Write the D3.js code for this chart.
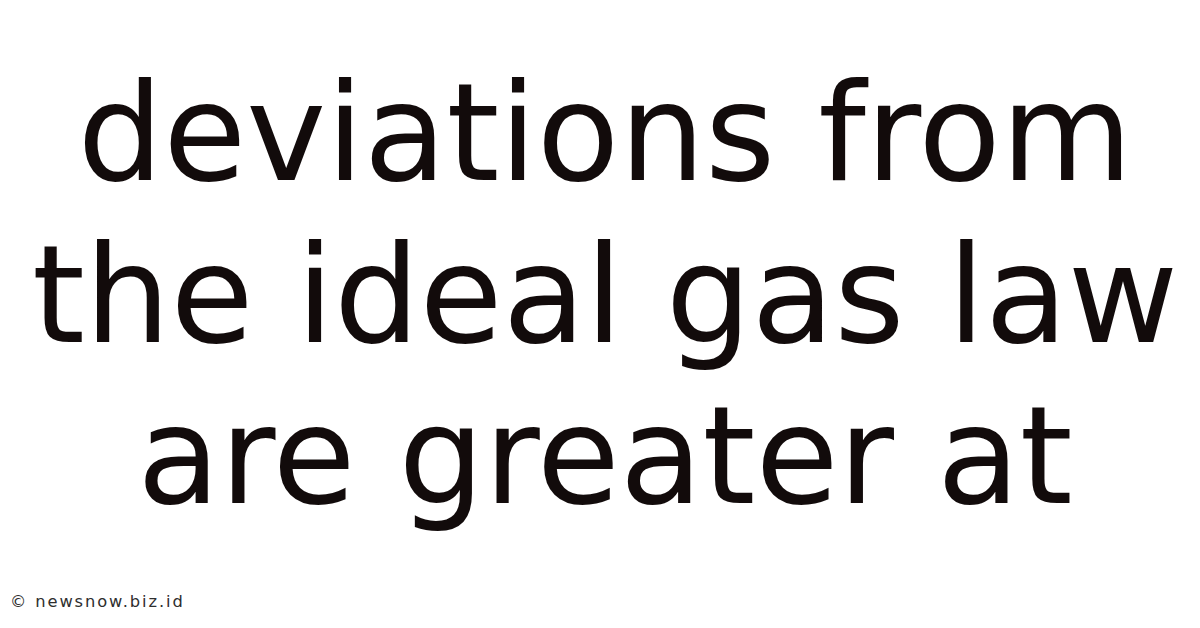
<!DOCTYPE html>
<html><head><meta charset="utf-8">
<script src="https://cdn.jsdelivr.net/npm/d3@7"></script>
<style>html,body{margin:0;padding:0;background:#fff;}svg{display:block;}</style>
</head><body>
<script>
const titleLines = ["deviations from", "the ideal gas law", "are greater at"];
const lineBaselines = [180, 342, 503];
const watermark = "© newsnow.biz.id";

const W = 1200, H = 628;
const svg = d3.select("body").append("svg").attr("width", W).attr("height", H);
svg.append("rect").attr("width", W).attr("height", H).attr("fill", "#ffffff");

const y = d3.scaleOrdinal().domain(titleLines).range(lineBaselines);

svg.selectAll("text.title").data(titleLines).join("text")
  .attr("class", "title")
  .attr("x", 605)
  .attr("y", d => y(d))
  .attr("text-anchor", "middle")
  .attr("font-family", "DejaVu Sans")
  .attr("font-size", 135)
  .attr("fill", "#120b0b")
  .text(d => d);

svg.append("text")
  .attr("x", 10).attr("y", 607)
  .attr("font-family", "DejaVu Sans")
  .attr("font-size", 16.3)
  .attr("letter-spacing", 1.9)
  .attr("fill", "#2e2e2e")
  .text(watermark);
</script>
</body></html>
